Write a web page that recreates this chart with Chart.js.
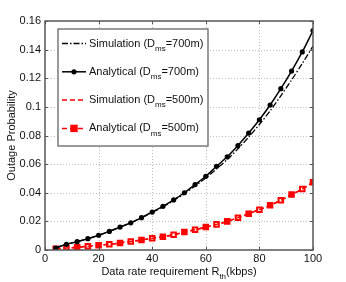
<!DOCTYPE html>
<html>
<head>
<meta charset="utf-8">
<script src="https://cdn.jsdelivr.net/npm/chart.js@4.4.0/dist/chart.umd.min.js"></script>
<style>
  html, body { margin: 0; padding: 0; background: #fff; }
  #wrap { width: 346px; height: 282px; }
</style>
</head>
<body>
<div id="wrap"><canvas id="chart" width="346" height="282"></canvas></div>
<script>
// data rate requirement R_th (kbps)
const rates = [4, 8, 12, 16, 20, 24, 28, 32, 36, 40, 44, 48, 52, 56, 60, 64, 68, 72, 76, 80, 84, 88, 92, 96, 100];

const sim700 = [0.0014, 0.004, 0.0058, 0.0079, 0.0103, 0.013, 0.016, 0.019, 0.0225, 0.0263, 0.0302, 0.0345, 0.0393, 0.0447, 0.0503, 0.0567, 0.0632, 0.0707, 0.0789, 0.0877, 0.0972, 0.1077, 0.1188, 0.1303, 0.1425];
const ana700 = [0.0014, 0.004, 0.0058, 0.0079, 0.0103, 0.013, 0.016, 0.019, 0.0226, 0.0265, 0.0305, 0.035, 0.040, 0.0457, 0.0515, 0.0585, 0.0651, 0.073, 0.0817, 0.091, 0.1013, 0.1127, 0.125, 0.1384, 0.1533];
const sim500 = [0.0009, 0.0014, 0.0019, 0.0026, 0.0033, 0.004, 0.0049, 0.006, 0.007, 0.0082, 0.0093, 0.0105, 0.0125, 0.0142, 0.016, 0.0179, 0.020, 0.0226, 0.0254, 0.0282, 0.0312, 0.0347, 0.0387, 0.0426, 0.0473];
const ana500 = [0.0009, 0.0014, 0.0019, 0.0026, 0.0033, 0.004, 0.0049, 0.006, 0.007, 0.0082, 0.0093, 0.0107, 0.0126, 0.0142, 0.016, 0.0179, 0.020, 0.0226, 0.0254, 0.0282, 0.0312, 0.0347, 0.0387, 0.0426, 0.0473];

// legend labels: [main text, subscript, rest]
const legendLabels = [
    ['Simulation (D', 'ms', '=700m)'],
    ['Analytical (D', 'ms', '=700m)'],
    ['Simulation (D', 'ms', '=500m)'],
    ['Analytical (D', 'ms', '=500m)']
];

const xTicks = [0, 20, 40, 60, 80, 100];
const yTicks = [0, 0.02, 0.04, 0.06, 0.08, 0.1, 0.12, 0.14, 0.16];

const FONT = '"Liberation Sans", Arial, Helvetica, sans-serif';

function toPoints(vals) {
    return rates.map((r, i) => ({ x: r, y: vals[i] }));
}

// draws grid, box, axis titles and legend in MATLAB style
const matlabPlugin = {
    id: 'matlabStyle',
    beforeDatasetsDraw(chart) {
        const ctx = chart.ctx;
        const a = chart.chartArea;
        const xs = chart.scales.x, ys = chart.scales.y;
        ctx.save();
        ctx.strokeStyle = '#bdbdbd';
        ctx.lineWidth = 1;
        ctx.setLineDash([1, 2]);
        xTicks.forEach(v => {
            if (v === 0 || v === 100) return;
            const px = Math.round(xs.getPixelForValue(v)) + 0.5;
            ctx.beginPath();
            ctx.moveTo(px, a.top);
            ctx.lineTo(px, a.bottom);
            ctx.stroke();
        });
        yTicks.forEach(v => {
            if (v === 0 || v === 0.16) return;
            const py = Math.round(ys.getPixelForValue(v)) + 0.5;
            ctx.beginPath();
            ctx.moveTo(a.left, py);
            ctx.lineTo(a.right, py);
            ctx.stroke();
        });
        ctx.restore();
    },
    afterDraw(chart) {
        const ctx = chart.ctx;
        const a = chart.chartArea;
        const xs = chart.scales.x, ys = chart.scales.y;
        ctx.save();

        // axes box
        ctx.strokeStyle = '#555';
        ctx.lineWidth = 1.5;
        ctx.strokeRect(a.left, a.top, a.right - a.left, a.bottom - a.top);

        // inward tick marks
        ctx.lineWidth = 1;
        xTicks.forEach(v => {
            const px = Math.round(xs.getPixelForValue(v)) + 0.5;
            ctx.beginPath();
            ctx.moveTo(px, a.bottom); ctx.lineTo(px, a.bottom - 3);
            ctx.moveTo(px, a.top); ctx.lineTo(px, a.top + 3);
            ctx.stroke();
        });
        yTicks.forEach(v => {
            const py = Math.round(ys.getPixelForValue(v)) + 0.5;
            ctx.beginPath();
            ctx.moveTo(a.left, py); ctx.lineTo(a.left + 3, py);
            ctx.moveTo(a.right, py); ctx.lineTo(a.right - 3, py);
            ctx.stroke();
        });

        ctx.fillStyle = '#111';
        ctx.textBaseline = 'middle';

        // x title with subscript
        const xMain = 'Data rate requirement R';
        const xSub = 'th';
        const xEnd = '(kbps)';
        ctx.font = '11px ' + FONT;
        const w1 = ctx.measureText(xMain).width;
        const w3 = ctx.measureText(xEnd).width;
        ctx.font = '8px ' + FONT;
        const w2 = ctx.measureText(xSub).width;
        let tx = (a.left + a.right) / 2 - (w1 + w2 + w3) / 2;
        const ty = 272;
        ctx.textAlign = 'left';
        ctx.font = '11px ' + FONT;
        ctx.fillText(xMain, tx, ty);
        ctx.font = '8px ' + FONT;
        ctx.fillText(xSub, tx + w1, ty + 5);
        ctx.font = '11px ' + FONT;
        ctx.fillText(xEnd, tx + w1 + w2, ty);

        // y title
        ctx.save();
        ctx.translate(12, (a.top + a.bottom) / 2);
        ctx.rotate(-Math.PI / 2);
        ctx.textAlign = 'center';
        ctx.fillText('Outage Probability', 0, 0);
        ctx.restore();

        // legend
        const lx = 58, ly = 29, lw = 150, lh = 117;
        ctx.fillStyle = '#fff';
        ctx.fillRect(lx, ly, lw, lh);
        ctx.strokeStyle = '#666';
        ctx.lineWidth = 1.3;
        ctx.strokeRect(lx, ly, lw, lh);
        chart.data.datasets.forEach((ds, i) => {
            const y = 43.5 + i * 28.3;
            ctx.save();
            ctx.strokeStyle = ds.borderColor;
            ctx.lineWidth = ds.borderWidth;
            ctx.setLineDash(ds.borderDash || []);
            ctx.beginPath();
            ctx.moveTo(62, y);
            ctx.lineTo(86, y);
            ctx.stroke();
            ctx.setLineDash([]);
            if (ds.pointRadius > 0) {
                if (ds.pointStyle === 'rect') {
                    const r = ds.pointRadius;
                    ctx.fillStyle = ds.pointBorderColor;
                    ctx.fillRect(74 - r - 0.5, y - r - 0.5, 2 * r + 1, 2 * r + 1);
                } else {
                    ctx.fillStyle = ds.pointBackgroundColor;
                    ctx.beginPath();
                    ctx.arc(74, y, ds.pointRadius, 0, Math.PI * 2);
                    ctx.fill();
                }
            }
            ctx.restore();
            const [m, s, e] = legendLabels[i];
            ctx.fillStyle = '#111';
            ctx.textAlign = 'left';
            ctx.font = '11px ' + FONT;
            const mw = ctx.measureText(m).width;
            ctx.fillText(m, 89, y);
            ctx.font = '8px ' + FONT;
            const sw = ctx.measureText(s).width;
            ctx.fillText(s, 89 + mw, y + 5);
            ctx.font = '11px ' + FONT;
            ctx.fillText(e, 89 + mw + sw, y);
        });
        ctx.restore();
    }
};

new Chart(document.getElementById('chart'), {
    type: 'line',
    data: {
        datasets: [
            {
                data: toPoints(sim700),
                borderColor: '#000',
                borderWidth: 1.3,
                borderDash: [6, 2, 1.5, 2],
                pointRadius: 0,
                tension: 0.3
            },
            {
                data: toPoints(ana700),
                borderColor: '#000',
                borderWidth: 1.5,
                pointRadius: 2.6,
                pointStyle: 'circle',
                pointBackgroundColor: '#000',
                pointBorderColor: '#000',
                pointBorderWidth: 0,
                tension: 0.3
            },
            {
                data: toPoints(sim500),
                borderColor: '#ff0000',
                borderWidth: 1.5,
                borderDash: [5, 3],
                pointRadius: 0,
                tension: 0.3
            },
            {
                data: toPoints(ana500),
                borderColor: '#ff0000',
                borderWidth: 1.5,
                borderDash: [5, 3],
                pointRadius: 3.2,
                pointStyle: 'rect',
                pointBackgroundColor: rates.map((r, i) => (i % 2 === 0 ? '#ff0000' : '#fff')),
                pointBorderColor: '#ff0000',
                pointBorderWidth: 2,
                tension: 0.3
            }
        ]
    },
    options: {
        responsive: false,
        animation: false,
        layout: { padding: { left: 0, top: 21, right: 33, bottom: 0 } },
        plugins: {
            legend: { display: false },
            tooltip: { enabled: false }
        },
        scales: {
            x: {
                type: 'linear',
                min: 0,
                max: 100,
                afterBuildTicks: s => { s.ticks = xTicks.map(v => ({ value: v })); },
                afterFit: s => { s.height = 32; },
                grid: { display: false, drawTicks: false },
                border: { display: false },
                ticks: {
                    padding: 2,
                    color: '#111',
                    font: { family: FONT, size: 11 },
                    maxRotation: 0,
                    callback: v => String(v)
                }
            },
            y: {
                type: 'linear',
                min: 0,
                max: 0.16,
                afterBuildTicks: s => { s.ticks = yTicks.map(v => ({ value: v })); },
                afterFit: s => { s.width = 45; },
                grid: { display: false, drawTicks: false },
                border: { display: false },
                ticks: {
                    padding: 4,
                    color: '#111',
                    font: { family: FONT, size: 11 },
                    callback: v => String(Number(v.toFixed(2)))
                }
            }
        }
    },
    plugins: [matlabPlugin]
});
</script>
</body>
</html>
